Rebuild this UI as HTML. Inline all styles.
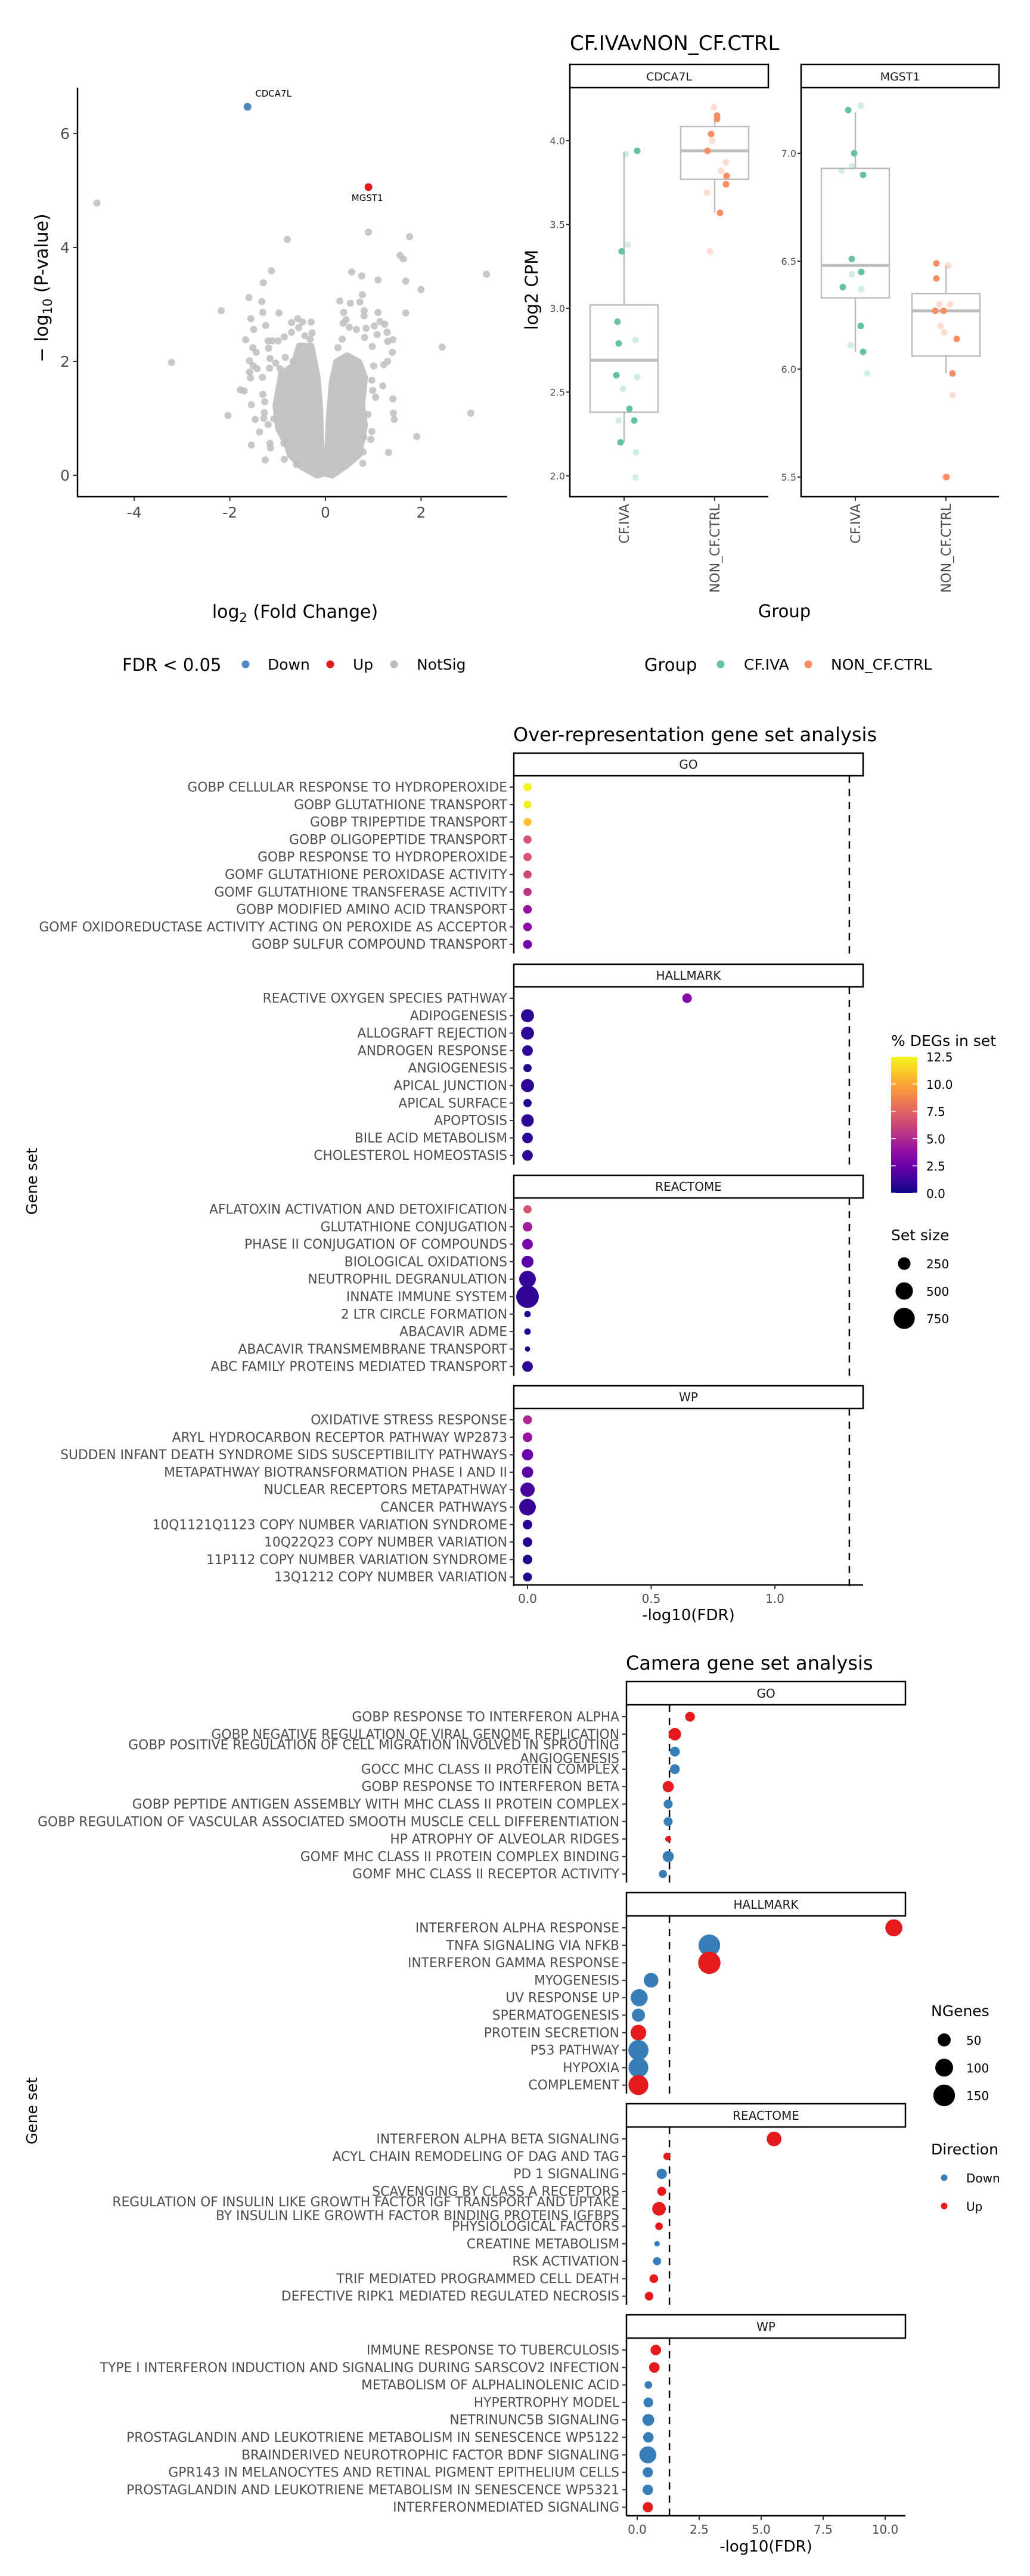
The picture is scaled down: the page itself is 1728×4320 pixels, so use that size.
<!DOCTYPE html>
<html><head><meta charset="utf-8"><style>
html,body{margin:0;padding:0;background:#fff;}
svg{display:block;font-family:"DejaVu Sans","Liberation Sans",sans-serif;}
</style></head><body>
<svg id="fig" width="1728" height="4320" viewBox="0 0 1728 4320" xmlns="http://www.w3.org/2000/svg"></svg>
<script>
// ---------- Volcano data ----------
const volcOutX=[0.90,1.76,-0.80,1.56,1.63,3.37,-1.13,0.55,0.76,1.10,1.68,-1.30,2.0,0.77,-1.60,-1.33,0.30,0.72,0.52,-2.18,-1.31,-0.97,1.68,1.10,0.38,0.81,-1.56,-1.25,-1.50,-1.67,2.44,-3.22,3.04,-2.04,1.91,1.32,-1.55,-1.26,0.78,-1.78,-1.70,-1.55,-1.47,-1.38,1.41,1.42,1.44,1.20,1.30,1.41,1.40,1.24,1.29,1.02,1.14,1.22,1.30,0.97,0.95,-1.59,-1.51,-1.43,-1.59,-1.57,-1.32,-1.31,-1.27,-1.28,-1.29,-1.20,-1.16,-1.15,-0.86,-0.61,-0.87,-1.08,-1.20,-1.11,-0.99,-0.86,-0.71,-0.71,-0.58,-0.48,-0.30,-0.56,-0.28,-0.43,-0.32,-1.19,-1.16,-1.17,-1.04,-0.95,-0.84,-0.68,-1.45,-1.52,0.35,0.37,0.43,0.50,0.65,0.85,1.08,0.98,0.82,0.26,0.81,1.01,0.97,0.99,1.05,0.89,0.79,0.80,-4.78];
const volcOutY=[4.27,4.19,4.14,3.86,3.80,3.53,3.59,3.57,3.50,3.43,3.41,3.38,3.26,3.17,3.12,3.05,3.06,3.04,3.02,2.89,2.86,2.85,2.85,2.86,2.86,2.89,2.75,2.63,2.56,2.38,2.25,1.98,1.09,1.05,0.68,0.40,0.53,0.27,0.21,1.50,1.48,1.24,0.98,0.76,1.34,1.09,0.98,1.57,2.35,2.38,2.16,2.65,2.51,2.62,2.70,1.94,2.00,0.77,0.63,2.01,1.92,1.87,1.81,1.71,1.72,1.42,1.29,1.10,1.00,0.89,0.56,0.48,0.28,0.19,0.56,0.99,2.36,2.36,2.36,2.43,2.51,2.68,2.75,2.69,2.69,2.59,2.50,2.45,2.39,2.23,2.05,1.88,1.97,1.87,2.07,2.00,2.16,2.24,2.39,2.67,2.73,2.60,2.56,2.58,2.47,2.26,2.42,2.24,2.80,1.92,1.67,1.49,1.37,1.07,0.41,0.67,4.78];
const coreLeft=[[0,0.04],[-0.09,0.46],[-0.12,1.22],[-0.17,1.72],[-0.30,2.27],[-0.55,2.27],[-0.67,1.92],[-0.92,1.78],[-1.04,1.22],[-0.98,0.81],[-0.80,0.53],[-0.74,0.36],[-0.50,0.15],[-0.18,0.0]];
const coreRight=[[0.01,0.03],[0.05,0.53],[0.08,1.05],[0.14,1.64],[0.23,1.99],[0.45,2.10],[0.70,1.99],[0.82,1.72],[0.76,1.22],[0.82,0.88],[0.70,0.36],[0.45,0.18],[0.14,0.0]];
const sigGenes=["CDCA7L","MGST1"];
const sigX=[-1.63,0.90];
const sigY=[6.47,5.06];
const sigDir=["Down","Up"];
const volcXTicks=[-4,-2,0,2];
const volcYTicks=[0,2,4,6];

// ---------- Boxplot data ----------
const boxGenes=["CDCA7L","MGST1"];
const boxGroups=["CF.IVA","NON_CF.CTRL"];
const boxStatsCDCA7L=[[2.20,2.38,2.69,3.02,3.93],[3.57,3.77,3.94,4.085,4.16]];
const boxStatsMGST1=[[6.08,6.33,6.48,6.93,7.19],[5.98,6.06,6.27,6.35,6.48]];
const ptsCDCA7L=[[0,3.94,22,0],[0,3.92,3,1],[0,3.34,-4,0],[0,3.38,6,1],[0,2.92,-11,0],[0,2.81,19,1],[0,2.79,-9,0],[0,2.60,-13,0],[0,2.59,22,1],[0,2.52,-2,1],[0,2.40,9,0],[0,2.33,-9,1],[0,2.33,17,0],[0,2.20,-6,0],[0,2.14,20,1],[0,1.99,19,1],
[1,4.20,-1,1],[1,4.15,4,0],[1,4.13,4,0],[1,4.04,-6,0],[1,4.00,-4,1],[1,3.94,-12,0],[1,3.87,19,1],[1,3.82,11,1],[1,3.79,20,0],[1,3.74,19,0],[1,3.69,-13,1],[1,3.57,9,0],[1,3.34,-8,1]];
const ptsMGST1=[[0,7.20,-12,0],[0,7.22,9,1],[0,7.00,-2,0],[0,6.94,-6,1],[0,6.92,-23,1],[0,6.90,13,0],[0,6.51,-6,0],[0,6.45,10,0],[0,6.44,-6,1],[0,6.37,10,1],[0,6.38,-21,0],[0,6.20,9,0],[0,6.11,-8,1],[0,6.08,13,0],[0,5.98,20,1],
[1,6.49,-16,0],[1,6.48,4,1],[1,6.42,-16,0],[1,6.30,-11,1],[1,6.30,7,1],[1,6.27,-18,0],[1,6.27,-4,0],[1,6.20,-9,1],[1,6.17,-3,1],[1,6.14,18,0],[1,5.98,11,0],[1,5.88,11,1],[1,5.50,1,0],[1,5.50,-2,1]];
const cdcaTicks=[2.0,2.5,3.0,3.5,4.0];
const mgstTicks=[5.5,6.0,6.5,7.0];

// ---------- ORA data ----------
const oraFacets=["GO","HALLMARK","REACTOME","WP"];
const oraLabels=[
["GOBP CELLULAR RESPONSE TO HYDROPEROXIDE","GOBP GLUTATHIONE TRANSPORT","GOBP TRIPEPTIDE TRANSPORT","GOBP OLIGOPEPTIDE TRANSPORT","GOBP RESPONSE TO HYDROPEROXIDE","GOMF GLUTATHIONE PEROXIDASE ACTIVITY","GOMF GLUTATHIONE TRANSFERASE ACTIVITY","GOBP MODIFIED AMINO ACID TRANSPORT","GOMF OXIDOREDUCTASE ACTIVITY ACTING ON PEROXIDE AS ACCEPTOR","GOBP SULFUR COMPOUND TRANSPORT"],
["REACTIVE OXYGEN SPECIES PATHWAY","ADIPOGENESIS","ALLOGRAFT REJECTION","ANDROGEN RESPONSE","ANGIOGENESIS","APICAL JUNCTION","APICAL SURFACE","APOPTOSIS","BILE ACID METABOLISM","CHOLESTEROL HOMEOSTASIS"],
["AFLATOXIN ACTIVATION AND DETOXIFICATION","GLUTATHIONE CONJUGATION","PHASE II CONJUGATION OF COMPOUNDS","BIOLOGICAL OXIDATIONS","NEUTROPHIL DEGRANULATION","INNATE IMMUNE SYSTEM","2 LTR CIRCLE FORMATION","ABACAVIR ADME","ABACAVIR TRANSMEMBRANE TRANSPORT","ABC FAMILY PROTEINS MEDIATED TRANSPORT"],
["OXIDATIVE STRESS RESPONSE","ARYL HYDROCARBON RECEPTOR PATHWAY WP2873","SUDDEN INFANT DEATH SYNDROME SIDS SUSCEPTIBILITY PATHWAYS","METAPATHWAY BIOTRANSFORMATION PHASE I AND II","NUCLEAR RECEPTORS METAPATHWAY","CANCER PATHWAYS","10Q1121Q1123 COPY NUMBER VARIATION SYNDROME","10Q22Q23 COPY NUMBER VARIATION","11P112 COPY NUMBER VARIATION SYNDROME","13Q1212 COPY NUMBER VARIATION"]];
const oraFDR=[[0,0,0,0,0,0,0,0,0,0],[0.645,0,0,0,0,0,0,0,0,0],[0,0,0,0,0,0,0,0,0,0],[0,0,0,0,0,0,0,0,0,0]];
const oraPct=[[12.5,12.3,11,7,7,6.5,5.5,4,3.8,3],[3.5,0.8,0.8,0.8,0.6,0.8,0.6,0.8,0.8,0.8],[7,4.5,3,2,1,0.8,0.5,0.5,0.3,0.8],[5,4,2.5,2,1.5,1,0.6,0.6,0.6,0.6]];
const oraSize=[[90,80,80,90,90,90,90,100,100,110],[130,270,270,170,90,270,90,245,170,170],[90,130,170,220,460,870,45,45,20,170],[110,130,195,195,330,460,130,130,130,110]];
const oraXTicks=[0,0.5,1.0];
const oraColTicks=[0,2.5,5,7.5,10,12.5];
const oraSizeLegend=[250,500,750];

// ---------- Camera data ----------
const camFacets=["GO","HALLMARK","REACTOME","WP"];
const camLabels=[
["GOBP RESPONSE TO INTERFERON ALPHA","GOBP NEGATIVE REGULATION OF VIRAL GENOME REPLICATION","GOBP POSITIVE REGULATION OF CELL MIGRATION INVOLVED IN SPROUTING|ANGIOGENESIS","GOCC MHC CLASS II PROTEIN COMPLEX","GOBP RESPONSE TO INTERFERON BETA","GOBP PEPTIDE ANTIGEN ASSEMBLY WITH MHC CLASS II PROTEIN COMPLEX","GOBP REGULATION OF VASCULAR ASSOCIATED SMOOTH MUSCLE CELL DIFFERENTIATION","HP ATROPHY OF ALVEOLAR RIDGES","GOMF MHC CLASS II PROTEIN COMPLEX BINDING","GOMF MHC CLASS II RECEPTOR ACTIVITY"],
["INTERFERON ALPHA RESPONSE","TNFA SIGNALING VIA NFKB","INTERFERON GAMMA RESPONSE","MYOGENESIS","UV RESPONSE UP","SPERMATOGENESIS","PROTEIN SECRETION","P53 PATHWAY","HYPOXIA","COMPLEMENT"],
["INTERFERON ALPHA BETA SIGNALING","ACYL CHAIN REMODELING OF DAG AND TAG","PD 1 SIGNALING","SCAVENGING BY CLASS A RECEPTORS","REGULATION OF INSULIN LIKE GROWTH FACTOR IGF TRANSPORT AND UPTAKE|BY INSULIN LIKE GROWTH FACTOR BINDING PROTEINS IGFBPS","PHYSIOLOGICAL FACTORS","CREATINE METABOLISM","RSK ACTIVATION","TRIF MEDIATED PROGRAMMED CELL DEATH","DEFECTIVE RIPK1 MEDIATED REGULATED NECROSIS"],
["IMMUNE RESPONSE TO TUBERCULOSIS","TYPE I INTERFERON INDUCTION AND SIGNALING DURING SARSCOV2 INFECTION","METABOLISM OF ALPHALINOLENIC ACID","HYPERTROPHY MODEL","NETRINUNC5B SIGNALING","PROSTAGLANDIN AND LEUKOTRIENE METABOLISM IN SENESCENCE WP5122","BRAINDERIVED NEUROTROPHIC FACTOR BDNF SIGNALING","GPR143 IN MELANOCYTES AND RETINAL PIGMENT EPITHELIUM CELLS","PROSTAGLANDIN AND LEUKOTRIENE METABOLISM IN SENESCENCE WP5321","INTERFERONMEDIATED SIGNALING"]];
const camFDR=[[2.13,1.52,1.52,1.52,1.25,1.25,1.25,1.25,1.25,1.04],[10.35,2.91,2.91,0.56,0.08,0.05,0.05,0.05,0.05,0.05],[5.52,1.2,0.99,0.99,0.88,0.88,0.8,0.8,0.67,0.48],[0.75,0.69,0.45,0.45,0.45,0.45,0.43,0.43,0.43,0.43]];
const camN=[[25,45,25,25,35,20,20,5,35,15],[90,150,160,65,90,50,75,130,125,125],[65,10,28,20,55,12,3,15,18,18],[30,30,12,25,40,30,90,28,30,28]];
const camDir=[["Up","Up","Down","Down","Up","Down","Down","Up","Down","Down"],["Up","Down","Up","Down","Down","Down","Up","Down","Down","Up"],["Up","Up","Down","Up","Up","Up","Down","Down","Up","Up"],["Up","Up","Down","Down","Down","Down","Down","Down","Down","Up"]];
const camXTicks=[0,2.5,5,7.5,10];
const camSizeLegend=[50,100,150];

// ---------- helpers ----------
const NS="http://www.w3.org/2000/svg";
const svg=document.getElementById('fig');
function mk(tag,attrs,parent){const e=document.createElementNS(NS,tag);for(const k in attrs)e.setAttribute(k,attrs[k]);(parent||svg).appendChild(e);return e;}
function txt(s,attrs,parent){const e=mk('text',attrs,parent);e.textContent=s;return e;}
function grp(name){const g=mk('g',{});return g;}
const AX="#4d4d4d";
const LBL=21.8;

// ================= VOLCANO =================
{
const g=grp('volcano-plot');
const xs=v=>546+80.2*v, ys=v=>797-95.5*v;
const core=mk('path',{d:'M'+coreLeft.map(p=>xs(p[0])+','+ys(p[1])).join('L')+'Z',fill:'#c4c4c4',stroke:'#c4c4c4','stroke-width':11,'stroke-linejoin':'round'},g);


const core2=mk('path',{d:'M'+coreRight.map(p=>xs(p[0])+','+ys(p[1])).join('L')+'Z',fill:'#c4c4c4',stroke:'#c4c4c4','stroke-width':11,'stroke-linejoin':'round'},g);


for(let i=0;i<volcOutX.length;i++){
 const c=mk('circle',{cx:xs(volcOutX[i]),cy:ys(volcOutY[i]),r:6,fill:'#bebebe','fill-opacity':0.85},g);
 
 
}
for(let i=0;i<sigGenes.length;i++){
 const c=mk('circle',{cx:xs(sigX[i]),cy:ys(sigY[i]),r:6.5,fill:sigDir[i]==='Down'?'#4f87bf':'#e41a1c'},g);
 
 
 const t=txt(sigGenes[i],sigDir[i]==='Down'?{x:xs(sigX[i])+13,y:ys(sigY[i])-17,'font-size':15,fill:'#000'}:{x:xs(sigX[i])-2,y:ys(sigY[i])+23,'font-size':15,fill:'#000','text-anchor':'middle'},g);
 
 
}
const ax=mk('path',{d:'M130,147V833H851',fill:'none',stroke:'#000','stroke-width':2.5},g);


volcYTicks.forEach(v=>{mk('line',{x1:123,x2:130,y1:ys(v),y2:ys(v),stroke:'#333','stroke-width':2},g);
 const t=txt(String(v),{x:117,y:ys(v)+9,'font-size':25,fill:AX,'text-anchor':'end'},g);
 
 });
volcXTicks.forEach(v=>{mk('line',{x1:xs(v),x2:xs(v),y1:833,y2:840,stroke:'#333','stroke-width':2},g);
 const t=txt(String(v),{x:xs(v),y:868,'font-size':25,fill:AX,'text-anchor':'middle'},g);
 
 });
const yt=txt('',{transform:'translate(80,483) rotate(-90)','font-size':30,'text-anchor':'middle',fill:'#000'},g);
yt.innerHTML='− log<tspan font-size="21" dy="7">10</tspan><tspan dy="-7"> (P-value)</tspan>';


const xt=txt('',{x:495,y:1036,'font-size':30,'text-anchor':'middle',fill:'#000'},g);
xt.innerHTML='log<tspan font-size="21" dy="7">2</tspan><tspan dy="-7"> (Fold Change)</tspan>';


const lg=grp('volcano-legend');
const lt=txt('FDR < 0.05',{x:205,y:1125,'font-size':29,fill:'#000'},lg);


[['Down','#4f87bf',412,449],['Up','#e41a1c',554,592],['NotSig','#bebebe',661,699]].forEach(a=>{
 const c=mk('circle',{cx:a[2],cy:1114,r:6.5,fill:a[1]},lg);
 
 
 const t=txt(a[0],{x:a[3],y:1123,'font-size':25,fill:'#000'},lg);
 
 
});
}

// ================= BOXPLOTS =================
{
const g=grp('expression-boxplots');
const title=txt('CF.IVAvNON_CF.CTRL',{x:956,y:84,'font-size':34,fill:'#000'},g);


const panels=[{gene:'CDCA7L',x0:956,x1:1289,cx:[1047,1199],ys:v=>798-281*(v-2),ticks:cdcaTicks,stats:boxStatsCDCA7L,pts:ptsCDCA7L},
 {gene:'MGST1',x0:1344,x1:1676,cx:[1435,1587],ys:v=>800-362*(v-5.5),ticks:mgstTicks,stats:boxStatsMGST1,pts:ptsMGST1}];
const cols=['#66c2a5','#fc8d62'];
panels.forEach(p=>{
 const pg=grp('panel-'+p.gene.toLowerCase());
 g.appendChild(pg);
 const s=mk('rect',{x:p.x0,y:108,width:p.x1-p.x0,height:39,fill:'#fff',stroke:'#000','stroke-width':2.5},pg);
 
 
 const st=txt(p.gene,{x:(p.x0+p.x1)/2,y:135,'font-size':19,'text-anchor':'middle',fill:'#1a1a1a'},pg);
 
 
 p.stats.forEach((b,gi)=>{
  const cx=p.cx[gi];
  const w=mk('line',{x1:cx,x2:cx,y1:p.ys(b[0]),y2:p.ys(b[4]),stroke:'#bdbdbd','stroke-width':2.5},pg);
  
  
  const r=mk('rect',{x:cx-57,y:p.ys(b[3]),width:114,height:p.ys(b[1])-p.ys(b[3]),fill:'#fff',stroke:'#bdbdbd','stroke-width':2.5},pg);
  
  
  const m=mk('line',{x1:cx-57,x2:cx+57,y1:p.ys(b[2]),y2:p.ys(b[2]),stroke:'#bdbdbd','stroke-width':5},pg);
  
  
 });
 p.pts.forEach(q=>{
  const c=mk('circle',{cx:p.cx[q[0]]+q[2],cy:p.ys(q[1]),r:5.5,fill:cols[q[0]],'fill-opacity':q[3]?0.3:1},pg);
  
  
 });
 const ax=mk('path',{d:`M${p.x0},147V833H${p.x1}`,fill:'none',stroke:'#000','stroke-width':2.5},pg);
 
 
 p.ticks.forEach(v=>{mk('line',{x1:p.x0-6,x2:p.x0,y1:p.ys(v),y2:p.ys(v),stroke:'#333','stroke-width':2},pg);
  const t=txt(v.toFixed(1),{x:p.x0-8,y:p.ys(v)+6,'font-size':16,'text-anchor':'end',fill:AX},pg);
  
  });
 boxGroups.forEach((gname,gi)=>{
  mk('line',{x1:p.cx[gi],x2:p.cx[gi],y1:833,y2:840,stroke:'#333','stroke-width':2},pg);
  const t=txt(gname,{transform:`translate(${p.cx[gi]+8},845) rotate(-90)`,'font-size':22,'text-anchor':'end',fill:AX},pg);
  
  
 });
});
const yt=txt('log2 CPM',{transform:'translate(902,486) rotate(-90)','font-size':29,'text-anchor':'middle',fill:'#000'},g);


const xt=txt('Group',{x:1316,y:1035,'font-size':29,'text-anchor':'middle',fill:'#000'},g);


const lt=txt('Group',{x:1081,y:1125,'font-size':29,fill:'#000'},g);


[['CF.IVA',cols[0],1209,1248],['NON_CF.CTRL',cols[1],1356,1394]].forEach(a=>{
 const c=mk('circle',{cx:a[2],cy:1114,r:6.5,fill:a[1]},g);
 
 
 const t=txt(a[0],{x:a[3],y:1123,'font-size':25,fill:'#000'},g);
 
 
});
}

// ================= PLASMA =================
const plasma=['#0d0887','#41049d','#6a00a8','#8f0da4','#b12a90','#cc4778','#e16462','#f2844b','#fca636','#fcce25','#f0f921'];
function hx(c){return [1,3,5].map(i=>parseInt(c.substr(i,2),16));}
function plasmaCol(v){let t=Math.max(0,Math.min(1,v/12.7))*10;const i=Math.min(9,Math.floor(t)),f=t-i;const a=hx(plasma[i]),b=hx(plasma[i+1]);return 'rgb('+a.map((x,k)=>Math.round(x+(b[k]-x)*f)).join(',')+')';}

// ================= ORA =================
{
const g=grp('ora-plot');
const xo=v=>885+415*v;
const t=txt('Over-representation gene set analysis',{x:861,y:1243,'font-size':32,fill:'#000'},g);


const stripTops=[1263,1617,1971,2324];
const rs=s=>Math.sqrt(12+0.4*s);
oraFacets.forEach((f,fi)=>{
 const pg=grp('ora-facet-'+f.toLowerCase());
 g.appendChild(pg);
 const top=stripTops[fi];
 const s=mk('rect',{x:862,y:top,width:586,height:38,fill:'#fff',stroke:'#000','stroke-width':2.5},pg);
 
 
 const st=txt(f,{x:1155,y:top+26,'font-size':20,'text-anchor':'middle',fill:'#1a1a1a'},pg);
 
 
 const pb=top+336;
 const d=mk('line',{x1:xo(1.301),x2:xo(1.301),y1:top+38,y2:pb,stroke:'#000','stroke-width':2.5,'stroke-dasharray':'12,10'},pg);
 
 
 const a=mk('line',{x1:862,x2:862,y1:top+38,y2:pb,stroke:'#000','stroke-width':2.5},pg);
 
 
 oraLabels[fi].forEach((lab,i)=>{
  const y=top+57+29.3*i;
  mk('line',{x1:855,x2:862,y1:y,y2:y,stroke:'#333','stroke-width':2},pg);
  const tl=txt(lab,{x:851,y:y+7.5,'font-size':LBL,'text-anchor':'end',fill:AX},pg);
  
  
  const c=mk('circle',{cx:xo(oraFDR[fi][i]),cy:y,r:rs(oraSize[fi][i]),fill:plasmaCol(oraPct[fi][i])},pg);
  
  
 });
});
const xa=mk('line',{x1:862,x2:1448,y1:2658,y2:2658,stroke:'#000','stroke-width':2.5},g);


oraXTicks.forEach(v=>{mk('line',{x1:xo(v),x2:xo(v),y1:2658,y2:2665,stroke:'#333','stroke-width':2},g);
 const tt=txt(v.toFixed(1),{x:xo(v),y:2688,'font-size':20,'text-anchor':'middle',fill:AX},g);
 
 });
const xt=txt('-log10(FDR)',{x:1155,y:2717,'font-size':26,'text-anchor':'middle',fill:'#000'},g);


const yt=txt('Gene set',{transform:'translate(62,1981) rotate(-90)','font-size':25,'text-anchor':'middle',fill:'#000'},g);


const lg=grp('ora-legend');
const l1=txt('% DEGs in set',{x:1495,y:1754,'font-size':25,fill:'#000'},lg);


const defs=mk('defs',{},lg);
const gr=mk('linearGradient',{id:'pl',x1:0,y1:1,x2:0,y2:0},defs);
plasma.forEach((c,i)=>mk('stop',{offset:i/10,'stop-color':c},gr));
const cb=mk('rect',{x:1495,y:1772,width:44,height:229,fill:'url(#pl)'},lg);


oraColTicks.forEach(v=>{const y=2001-v/12.5*229;
 mk('line',{x1:1495,x2:1503,y1:y,y2:y,stroke:'#fff','stroke-width':1.5},lg);
 mk('line',{x1:1531,x2:1539,y1:y,y2:y,stroke:'#fff','stroke-width':1.5},lg);
 const tt=txt(v.toFixed(1),{x:1554,y:y+8,'font-size':20,fill:'#000'},lg);
 
 });
const l2=txt('Set size',{x:1495,y:2080,'font-size':25,fill:'#000'},lg);


oraSizeLegend.forEach((s,i)=>{const y=2119+46*i;
 const c=mk('circle',{cx:1517,cy:y,r:rs(s),fill:'#000'},lg);
 
 
 const tt=txt(String(s),{x:1554,y:y+8,'font-size':20,fill:'#000'},lg);
 
 });
}

// ================= CAMERA =================
{
const g=grp('camera-plot');
const xc=v=>1069+41.6*v;
const t=txt('Camera gene set analysis',{x:1050,y:2800,'font-size':32,fill:'#000'},g);


const stripTops=[2820,3174,3528,3882];
const rn=n=>Math.sqrt(15+2.1*n);
const dcol={Up:'#e41a1c',Down:'#377eb8'};
camFacets.forEach((f,fi)=>{
 const pg=grp('camera-facet-'+f.toLowerCase());
 g.appendChild(pg);
 const top=stripTops[fi];
 const s=mk('rect',{x:1051,y:top,width:468,height:39,fill:'#fff',stroke:'#000','stroke-width':2.5},pg);
 
 
 const st=txt(f,{x:1285,y:top+27,'font-size':20,'text-anchor':'middle',fill:'#1a1a1a'},pg);
 
 
 const pb=top+337;
 const d=mk('line',{x1:xc(1.301),x2:xc(1.301),y1:top+39,y2:pb,stroke:'#000','stroke-width':2.5,'stroke-dasharray':'12,10'},pg);
 
 
 const a=mk('line',{x1:1051,x2:1051,y1:top+39,y2:pb,stroke:'#000','stroke-width':2.5},pg);
 
 
 camLabels[fi].forEach((lab,i)=>{
  const y=top+59+29.3*i;
  mk('line',{x1:1044,x2:1051,y1:y,y2:y,stroke:'#333','stroke-width':2},pg);
  const parts=lab.split('|');
  parts.forEach((pt,k)=>{
   const yy=parts.length>1?y-11.5+23*k:y;
   const tl=txt(pt,{x:1039,y:yy+7.5,'font-size':LBL,'text-anchor':'end',fill:AX},pg);
   
   
  });
  const c=mk('circle',{cx:xc(camFDR[fi][i]),cy:y,r:rn(camN[fi][i]),fill:dcol[camDir[fi][i]]},pg);
  
  
 });
});
const xa=mk('line',{x1:1051,x2:1519,y1:4219,y2:4219,stroke:'#000','stroke-width':2.5},g);


camXTicks.forEach(v=>{mk('line',{x1:xc(v),x2:xc(v),y1:4219,y2:4226,stroke:'#333','stroke-width':2},g);
 const tt=txt(v.toFixed(1),{x:xc(v),y:4249,'font-size':20,'text-anchor':'middle',fill:AX},g);
 
 });
const xt=txt('-log10(FDR)',{x:1285,y:4279,'font-size':26,'text-anchor':'middle',fill:'#000'},g);


const yt=txt('Gene set',{transform:'translate(62,3540) rotate(-90)','font-size':25,'text-anchor':'middle',fill:'#000'},g);


const lg=grp('camera-legend');
const l1=txt('NGenes',{x:1562,y:3381,'font-size':25,fill:'#000'},lg);


camSizeLegend.forEach((n,i)=>{const y=3421+46.5*i;
 const c=mk('circle',{cx:1584,cy:y,r:rn(n),fill:'#000'},lg);
 
 
 const tt=txt(String(n),{x:1621,y:y+8,'font-size':20,fill:'#000'},lg);
 
 });
const l2=txt('Direction',{x:1562,y:3613,'font-size':25,fill:'#000'},lg);


['Down','Up'].forEach((dn,i)=>{const y=3652+47.5*i;
 const c=mk('circle',{cx:1584,cy:y,r:5.5,fill:dcol[dn]},lg);
 
 
 const tt=txt(dn,{x:1621,y:y+8,'font-size':20,fill:'#000'},lg);
 
 });
}
</script>
</body></html>
